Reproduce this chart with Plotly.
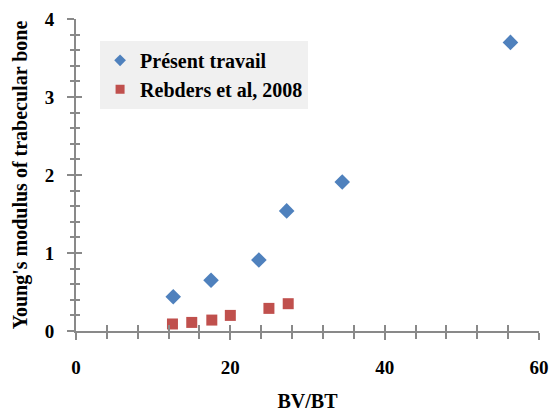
import plotly.graph_objects as go

# Data
present_x = [12.6, 17.5, 23.7, 27.3, 34.5, 56.3]
present_y = [0.44, 0.65, 0.91, 1.54, 1.91, 3.70]
rebders_x = [12.5, 15.0, 17.6, 20.0, 25.0, 27.5]
rebders_y = [0.09, 0.11, 0.14, 0.20, 0.29, 0.35]
series_names = ["Présent travail", "Rebders et al, 2008"]
x_title = "BV/BT"
y_title = "Young's modulus of trabecular bone"

FONT = "Liberation Serif"
AXC = "#898989"
BLUE = "#4f81bd"
RED = "#c0504d"

fig = go.Figure()
fig.add_trace(go.Scatter(x=present_x, y=present_y, mode="markers", name=series_names[0],
                         showlegend=False,
                         marker=dict(symbol="diamond", size=12, color=BLUE)))
fig.add_trace(go.Scatter(x=rebders_x, y=rebders_y, mode="markers", name=series_names[1],
                         showlegend=False,
                         marker=dict(symbol="square", size=11, color=RED)))
# legend entries (smaller symbols like the reference)
fig.add_trace(go.Scatter(x=[None], y=[None], mode="markers", name=series_names[0],
                         marker=dict(symbol="diamond", size=9, color=BLUE)))
fig.add_trace(go.Scatter(x=[None], y=[None], mode="markers", name=series_names[1],
                         marker=dict(symbol="square", size=9, color=RED)))
# invisible trace for overlay axes (inside ticks, to make crossing ticks)
fig.add_trace(go.Scatter(x=[0], y=[0], xaxis="x2", yaxis="y2", mode="markers",
                         marker=dict(opacity=0), showlegend=False, hoverinfo="skip"))

fig.update_layout(
    width=552, height=412,
    margin=dict(l=76, r=13, t=19, b=81),
    paper_bgcolor="white", plot_bgcolor="white",
    font=dict(family=FONT, size=20, color="black", weight="bold"),
    showlegend=True,
    legend=dict(x=0.052, y=0.93, xanchor="left", yanchor="top",
                bgcolor="#f0f0f0", borderwidth=0,
                font=dict(family=FONT, size=20, color="black", weight="bold"),
                itemwidth=30, tracegroupgap=0),
    xaxis=dict(range=[0, 60], tickvals=[0, 20, 40, 60], showgrid=False, zeroline=False,
               automargin=False,
               showline=True, linecolor=AXC, linewidth=2,
               ticks="outside", ticklen=7, tickwidth=2, tickcolor=AXC,
               minor=dict(dtick=4, tick0=0, ticks="outside", ticklen=6, tickwidth=2, tickcolor=AXC, showgrid=False),
               ticklabelstandoff=11, tickfont=dict(size=19),
               title=dict(text=x_title, standoff=36, font=dict(family=FONT, size=20, weight="bold"))),
    yaxis=dict(range=[0, 4], tickvals=[0, 1, 2, 3, 4], showgrid=False, zeroline=False,
               automargin=False,
               showline=True, linecolor=AXC, linewidth=2,
               ticks="outside", ticklen=7, tickwidth=2, tickcolor=AXC,
               minor=dict(dtick=0.2, tick0=0, ticks="outside", ticklen=4, tickwidth=2, tickcolor=AXC, showgrid=False),
               ticklabelstandoff=9, tickfont=dict(size=19),
               title=dict(text=y_title, standoff=12, font=dict(family=FONT, size=20, weight="bold"))),
    xaxis2=dict(range=[0, 60], overlaying="x", anchor="y2", showgrid=False, zeroline=False,
                automargin=False,
                showticklabels=False, tickvals=[0, 20, 40, 60],
                ticks="inside", ticklen=6, tickwidth=2, tickcolor=AXC,
                minor=dict(dtick=4, tick0=0, ticks="inside", ticklen=6, tickwidth=2, tickcolor=AXC)),
    yaxis2=dict(range=[0, 4], overlaying="y", anchor="x2", showgrid=False, zeroline=False,
                automargin=False,
                showticklabels=False, tickvals=[0, 1, 2, 3, 4],
                ticks="inside", ticklen=6, tickwidth=2, tickcolor=AXC,
                minor=dict(dtick=0.2, tick0=0, ticks="inside", ticklen=4, tickwidth=2, tickcolor=AXC)),
)

fig.write_html("out.html", config={"displayModeBar": False},
               post_script="document.body.style.margin='0';document.body.style.overflow='hidden';")
